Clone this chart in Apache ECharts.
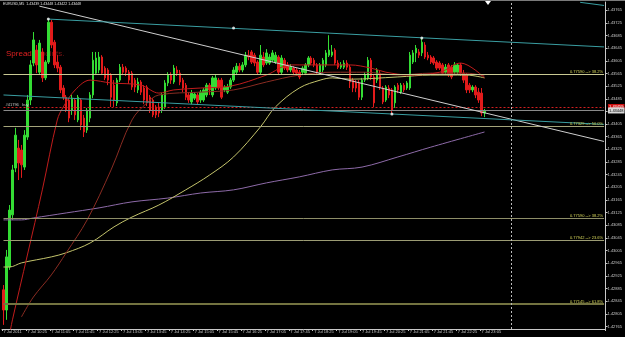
<!DOCTYPE html>
<html><head><meta charset="utf-8">
<script src="https://cdn.jsdelivr.net/npm/echarts@6/dist/echarts.min.js"></script>
<style>html,body{margin:0;padding:0;background:#000;}#c{width:625px;height:337px;}</style>
</head><body><div id="c"></div>
<script>
// ---- data ----
const titleText = 'EURUSD,M5  1.43439 1.43448 1.43422 1.43448';
const xTickLabels = ['7 Jul 2011','7 Jul 10:25','7 Jul 11:05','7 Jul 11:45','7 Jul 12:25','7 Jul 13:05','7 Jul 13:45','7 Jul 14:25','7 Jul 15:05','7 Jul 15:45','7 Jul 16:25','7 Jul 17:05','7 Jul 17:45','7 Jul 18:25','7 Jul 19:05','7 Jul 19:45','7 Jul 20:25','7 Jul 21:05','7 Jul 21:45','7 Jul 22:25','7 Jul 23:05'];
const yTickLabels = [1.43765,1.43725,1.43685,1.43645,1.43605,1.43565,1.43525,1.43485,1.43445,1.43405,1.43365,1.43325,1.43285,1.43245,1.43205,1.43165,1.43125,1.43085,1.43045,1.43005,1.42965,1.42925,1.42885,1.42845,1.42805,1.42765];

const open = [
1.42881,1.42817,1.42953,1.43118,1.43266,1.43329,1.43323,1.43269,1.43364,1.43481,
1.43598,1.43639,1.43569,1.43633,1.43551,1.43601,1.43727,1.43664,1.43601,1.43585,
1.43519,1.43490,1.43481,1.43449,1.43481,1.43418,1.43481,1.43424,1.43386,1.43424,
1.43497,1.43566,1.43576,1.43617,1.43582,1.43576,1.43560,1.43528,1.43472,1.43544,
1.43585,1.43582,1.43569,1.43566,1.43544,1.43513,1.43538,1.43519,1.43522,1.43490,
1.43481,1.43459,1.43459,1.43449,1.43459,1.43535,1.43560,1.43538,1.43576,1.43566,
1.43544,1.43528,1.43497,1.43475,1.43487,1.43497,1.43481,1.43481,1.43497,1.43528,
1.43497,1.43519,1.43544,1.43544,1.43513,1.43506,1.43522,1.43544,1.43569,1.43588,
1.43576,1.43592,1.43623,1.43633,1.43623,1.43601,1.43569,1.43617,1.43598,1.43598,
1.43607,1.43601,1.43617,1.43569,1.43607,1.43592,1.43576,1.43582,1.43576,1.43569,
1.43569,1.43566,1.43592,1.43614,1.43607,1.43592,1.43569,1.43576,1.43592,1.43623,
1.43623,1.43639,1.43598,1.43585,1.43585,1.43598,1.43585,1.43544,1.43535,1.43535,
1.43490,1.43544,1.43551,1.43607,1.43554,1.43544,1.43566,1.43519,1.43481,1.43519,
1.43513,1.43472,1.43528,1.43506,1.43528,1.43519,1.43519,1.43601,1.43630,1.43633,
1.43630,1.43655,1.43623,1.43617,1.43614,1.43601,1.43598,1.43592,1.43569,1.43592,
1.43585,1.43569,1.43569,1.43592,1.43566,1.43560,1.43528,1.43513,1.43522,1.43506,
1.43503,1.43440];
const close = [
1.42817,1.42985,1.43133,1.43260,1.43370,1.43282,1.43276,1.43370,1.43481,1.43592,
1.43671,1.43592,1.43661,1.43551,1.43601,1.43727,1.43655,1.43592,1.43582,1.43513,
1.43490,1.43449,1.43424,1.43487,1.43434,1.43490,1.43402,1.43380,1.43449,1.43497,
1.43607,1.43614,1.43617,1.43566,1.43551,1.43544,1.43490,1.43481,1.43544,1.43585,
1.43569,1.43569,1.43544,1.43522,1.43522,1.43538,1.43506,1.43481,1.43472,1.43449,
1.43434,1.43434,1.43440,1.43497,1.43535,1.43560,1.43544,1.43582,1.43566,1.43538,
1.43519,1.43490,1.43481,1.43503,1.43500,1.43475,1.43506,1.43513,1.43528,1.43513,
1.43551,1.43551,1.43519,1.43490,1.43522,1.43522,1.43544,1.43576,1.43588,1.43576,
1.43592,1.43623,1.43617,1.43601,1.43598,1.43569,1.43623,1.43592,1.43630,1.43617,
1.43630,1.43623,1.43569,1.43614,1.43582,1.43576,1.43585,1.43569,1.43566,1.43554,
1.43582,1.43592,1.43614,1.43598,1.43592,1.43569,1.43592,1.43607,1.43630,1.43639,
1.43633,1.43598,1.43585,1.43592,1.43598,1.43585,1.43538,1.43519,1.43519,1.43490,
1.43544,1.43560,1.43607,1.43554,1.43472,1.43576,1.43522,1.43475,1.43522,1.43497,
1.43449,1.43522,1.43513,1.43528,1.43513,1.43535,1.43623,1.43630,1.43645,1.43623,
1.43664,1.43617,1.43614,1.43601,1.43598,1.43582,1.43582,1.43566,1.43585,1.43560,
1.43554,1.43592,1.43592,1.43566,1.43544,1.43513,1.43513,1.43522,1.43497,1.43481,
1.43440,1.43446];
const low = [
1.42770,1.42786,1.42944,1.43102,1.43253,1.43228,1.43235,1.43260,1.43355,1.43465,
1.43588,1.43566,1.43560,1.43538,1.43544,1.43595,1.43645,1.43582,1.43569,1.43503,
1.43481,1.43443,1.43411,1.43434,1.43418,1.43411,1.43386,1.43364,1.43377,1.43411,
1.43487,1.43560,1.43566,1.43560,1.43544,1.43528,1.43459,1.43459,1.43462,1.43538,
1.43560,1.43557,1.43532,1.43513,1.43506,1.43503,1.43497,1.43468,1.43462,1.43440,
1.43427,1.43424,1.43427,1.43440,1.43453,1.43525,1.43532,1.43532,1.43557,1.43528,
1.43506,1.43481,1.43472,1.43468,1.43481,1.43468,1.43472,1.43475,1.43490,1.43497,
1.43490,1.43513,1.43513,1.43484,1.43506,1.43500,1.43516,1.43538,1.43560,1.43569,
1.43569,1.43585,1.43607,1.43595,1.43588,1.43563,1.43563,1.43585,1.43592,1.43592,
1.43601,1.43595,1.43560,1.43563,1.43576,1.43569,1.43569,1.43563,1.43557,1.43547,
1.43560,1.43560,1.43585,1.43592,1.43585,1.43563,1.43563,1.43569,1.43585,1.43617,
1.43617,1.43592,1.43579,1.43579,1.43579,1.43576,1.43519,1.43506,1.43506,1.43481,
1.43481,1.43538,1.43544,1.43544,1.43459,1.43535,1.43513,1.43468,1.43475,1.43487,
1.43437,1.43456,1.43503,1.43500,1.43506,1.43513,1.43513,1.43595,1.43601,1.43614,
1.43620,1.43611,1.43607,1.43595,1.43592,1.43576,1.43576,1.43560,1.43563,1.43554,
1.43547,1.43563,1.43563,1.43557,1.43535,1.43503,1.43503,1.43506,1.43487,1.43472,
1.43430,1.43427];
const high = [
1.42896,1.43007,1.43149,1.43276,1.43393,1.43355,1.43339,1.43386,1.43497,1.43607,
1.43696,1.43655,1.43671,1.43645,1.43607,1.43737,1.43734,1.43671,1.43623,1.43592,
1.43528,1.43497,1.43487,1.43497,1.43487,1.43497,1.43487,1.43434,1.43456,1.43506,
1.43633,1.43633,1.43633,1.43623,1.43588,1.43582,1.43566,1.43544,1.43551,1.43595,
1.43595,1.43588,1.43576,1.43573,1.43551,1.43551,1.43544,1.43528,1.43528,1.43497,
1.43487,1.43465,1.43472,1.43503,1.43544,1.43569,1.43569,1.43592,1.43588,1.43576,
1.43551,1.43535,1.43506,1.43513,1.43506,1.43503,1.43513,1.43519,1.43535,1.43535,
1.43557,1.43560,1.43551,1.43551,1.43528,1.43532,1.43551,1.43585,1.43598,1.43598,
1.43601,1.43633,1.43639,1.43639,1.43630,1.43607,1.43655,1.43633,1.43642,1.43626,
1.43639,1.43633,1.43623,1.43623,1.43614,1.43601,1.43595,1.43588,1.43582,1.43576,
1.43588,1.43598,1.43620,1.43620,1.43614,1.43598,1.43598,1.43614,1.43639,1.43686,
1.43655,1.43645,1.43607,1.43601,1.43607,1.43607,1.43592,1.43551,1.43544,1.43544,
1.43551,1.43569,1.43617,1.43614,1.43560,1.43582,1.43576,1.43525,1.43528,1.43528,
1.43519,1.43528,1.43535,1.43535,1.43535,1.43541,1.43633,1.43639,1.43655,1.43642,
1.43677,1.43664,1.43633,1.43623,1.43620,1.43607,1.43604,1.43598,1.43595,1.43598,
1.43592,1.43601,1.43598,1.43598,1.43576,1.43566,1.43535,1.43528,1.43528,1.43519,
1.43519,1.43453];

// moving averages read at sampled bars: [barIndex, price]
const maFast = [[2,1.42738],[3,1.42786],[8,1.42991],[13,1.43197],[18,1.43418],[20,1.43459],[24,1.43513],[29,1.43544],[36,1.43535],[46,1.43528],[52,1.43503],[57,1.43513],[66,1.43519],[76,1.43525],[88,1.43560],[96,1.43592],[102,1.43592],[116,1.43592],[123,1.43582],[128,1.43569],[136,1.43560],[146,1.43569],[153,1.43598],[161,1.43551]];
const maMid = [[6,1.42795],[10,1.42858],[16,1.42928],[21,1.42998],[28,1.43102],[36,1.43260],[43,1.43418],[48,1.43472],[52,1.43497],[66,1.43506],[77,1.43513],[88,1.43538],[99,1.43560],[110,1.43569],[121,1.43569],[132,1.43560],[143,1.43566],[155,1.43566],[161,1.43557]];
const maSlow = [[0,1.42953],[2,1.42953],[6,1.42966],[16,1.42985],[21,1.42998],[29,1.43029],[37,1.43080],[43,1.43111],[52,1.43149],[61,1.43197],[69,1.43244],[77,1.43301],[86,1.43396],[91,1.43459],[99,1.43519],[106,1.43544],[110,1.43551],[116,1.43547],[132,1.43554],[143,1.43560],[155,1.43560],[161,1.43551]];
const maLong = [[0,1.43102],[6,1.43102],[10,1.43108],[21,1.43124],[32,1.43140],[43,1.43159],[55,1.43171],[66,1.43187],[77,1.43197],[88,1.43219],[99,1.43238],[110,1.43260],[120,1.43269],[132,1.43301],[143,1.43332],[161,1.43380]];

// drawn objects: trend lines [[barIndex, price],[barIndex, price]]
const whiteTrend = [[12,1.43778],[201,1.43350]];
const upperChannel = [[15,1.43737],[201,1.43649]];
const lowerChannel = [[0,1.43497],[201,1.43404]];
const topChannel = [[193,1.43790],[201,1.43780]];
const anchorPoints = [[15,1.43737],[77,1.43709],[140,1.43677],[130,1.43437]];
const fibLevels = [1.43563,1.43399,1.43108,1.43039,1.42836];
const fibTexts = ['0.77590 --> 38.2%','0.77329 --> 50.0%','0.77590 --> 38.2%','0.77942 --> 23.6%','0.77145 --> 61.8%'];
const orderPrice = 1.43459;
const orderText = '#41796   buy';
const bidPrice = 1.43448;
const shiftBar = 170;
const totalSlots = 202;

// ---- build ----
const categories = [];
for (let i = 0; i < totalSlots; i++) categories.push(String(i));
const candles = open.map((o, i) => [o, close[i], low[i], high[i]]);
const FONT = 'Liberation Sans';
const AX = '#c8c8c8';
const X0 = 0, X1 = totalSlots - 1;

const fibColors = ['#c9c993','#a4a47a','#8e8e68','#9c9c74','#737340'];
const fibWidths = [1,1,1,1,2];
function hline(v, lineStyle, label) {
  return [{coord: [X0, v], lineStyle: lineStyle, label: label}, {coord: [X1, v]}];
}
const mlData = [];
fibLevels.forEach((v, k) => mlData.push(hline(v,
  {color: fibColors[k], width: fibWidths[k], type: 'solid'},
  {show: true, position: 'insideEndTop', formatter: fibTexts[k], color: '#d6d65a', fontSize: 4, fontFamily: FONT, distance: [1, 0]})));
mlData.push(hline(orderPrice, {color: '#d42020', width: 1, type: [2, 2]},
  {show: true, position: 'insideStartTop', formatter: orderText, color: '#c8c8c8', fontSize: 4, fontFamily: FONT, distance: [2, 0]}));
mlData.push(hline(bidPrice, {color: '#8a8a8a', width: 1, type: 'solid'}, {show: false}));
mlData.push({xAxis: shiftBar, lineStyle: {color: '#bbbbbb', width: 1, type: [2, 2]}, label: {show: false}});
function seg(pts, color) {
  return [{coord: pts[0], lineStyle: {color: color, width: 1, type: 'solid'}, label: {show: false}}, {coord: pts[1]}];
}
mlData.push(seg(whiteTrend, '#cfcfcf'));
mlData.push(seg(upperChannel, '#3a9ea2'));
mlData.push(seg(lowerChannel, '#3a9ea2'));
mlData.push(seg(topChannel, '#3a9ea2'));
const clear = {color: 'rgba(0,0,0,0)', width: 0};
mlData.push(hline(orderPrice, clear, {show: true, position: 'end', formatter: orderPrice.toFixed(5), color: '#ffffff', backgroundColor: '#d01010', fontSize: 4, fontFamily: FONT, padding: [1, 1], distance: 4}));
mlData.push(hline(bidPrice, clear, {show: true, position: 'end', formatter: bidPrice.toFixed(5), color: '#000000', backgroundColor: '#d8d8d8', fontSize: 4, fontFamily: FONT, padding: [1, 1], distance: 4}));

function maSeries(data, color) {
  return {type: 'line', data: data, smooth: 0.35, symbol: 'none', silent: true, animation: false,
    lineStyle: {color: color, width: 1}, z: 3, clip: true};
}
const longSeries = maSeries(maLong, '#8d6aa8');
longSeries.markLine = {silent: true, symbol: ['none', 'none'], animation: false, data: mlData};

const chart = echarts.init(document.getElementById('c'), null, {renderer: 'canvas'});
chart.setOption({
  backgroundColor: '#000000',
  animation: false,
  textStyle: {fontFamily: FONT},
  grid: {left: 2, right: 16, top: 2, bottom: 8},
  xAxis: {
    type: 'category', data: categories, boundaryGap: true,
    axisLine: {show: true, lineStyle: {color: AX, width: 1}},
    axisTick: {show: true, length: 2, interval: (i) => i % 8 === 0 && i / 8 < xTickLabels.length, lineStyle: {color: AX}},
    axisLabel: {show: true, interval: (i) => i % 8 === 0 && i / 8 < xTickLabels.length,
      formatter: (v, i) => (i % 8 === 0 && i / 8 < xTickLabels.length) ? xTickLabels[i / 8] : '',
      color: AX, fontSize: 4, fontFamily: FONT, margin: 1, align: 'left'},
    splitLine: {show: false}
  },
  yAxis: {
    type: 'value', position: 'right', min: 1.42757, max: 1.43791, scale: true,
    axisLine: {show: true, lineStyle: {color: AX, width: 1}},
    axisTick: {show: true, length: 2, customValues: yTickLabels, lineStyle: {color: AX}},
    axisLabel: {show: true, customValues: yTickLabels, formatter: (v) => v.toFixed(5), color: AX, fontSize: 4, fontFamily: FONT, margin: 2},
    splitLine: {show: false}
  },
  series: [
    {
      type: 'candlestick', data: candles, barWidth: 2, z: 2,
      itemStyle: {color: '#34dc34', color0: '#e21b1b', borderColor: '#34dc34', borderColor0: '#e21b1b', borderWidth: 1}
    },
    longSeries,
    maSeries(maSlow, '#c4c46c'),
    maSeries(maMid, '#8a2c22'),
    maSeries(maFast, '#c01c1c'),
    {type: 'scatter', data: anchorPoints, symbol: 'circle', symbolSize: 3, silent: true, z: 5,
      itemStyle: {color: '#ffffff'}}
  ],
  graphic: [
    {type: 'rect', shape: {x: 0, y: 0, width: 625, height: 1}, style: {fill: '#7a7a7a'}, silent: true},
    {type: 'text', x: 3, y: 2, style: {text: titleText, fill: '#e0e0e0', fontSize: 3.6, fontFamily: FONT}, silent: true},
    {type: 'text', x: 6, y: 50, style: {text: 'Spread:', fill: '#e02020', fontSize: 8, fontFamily: FONT}, silent: true},
    {type: 'text', x: 32, y: 50, style: {text: ' 9 points.', fill: '#7a1414', fontSize: 8, fontFamily: FONT}, silent: true},
    {type: 'polygon', shape: {points: [[485, 1], [491, 1], [488, 5]]}, style: {fill: '#ffffff'}, silent: true}
  ]
});
</script></body></html>
